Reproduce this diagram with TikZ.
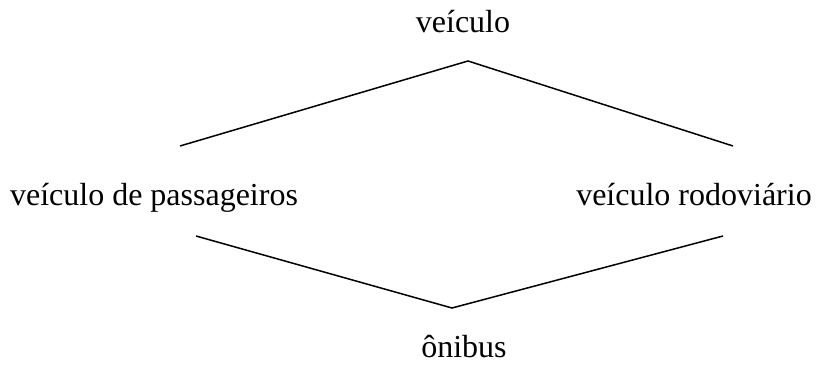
\documentclass[tikz,border=0pt]{standalone}
\usepackage{fontspec}
\setmainfont{Liberation Serif}
\usetikzlibrary{positioning}

\begin{document}
\begin{tikzpicture}[x=0.5pt, y=-0.5pt,
  label/.style={anchor=base, inner sep=0pt, font=\fontsize{16}{19}\selectfont},
  edge/.style={line width=0.75pt}]
  % Frame of the picture
  \useasboundingbox (0,0) rectangle (816,385);

  % Concepts of the lattice
  \node[label] (veic)  at (463,33)  {veículo};
  \node[label] (pass)  at (154,206) {veículo de passageiros};
  \node[label] (rodo)  at (694,206) {veículo rodoviário};
  \node[label] (onib)  at (464,358) {ônibus};

  % Ends of the lines
  \coordinate (top)   at (468,61);
  \coordinate (topL)  at (180,146);
  \coordinate (topR)  at (733,146);
  \coordinate (botL)  at (196,236);
  \coordinate (botR)  at (723,236);
  \coordinate (bot)   at (452,308);

  % Lines between the levels
  \draw[edge] (topL) -- (top) -- (topR);
  \draw[edge] (botL) -- (bot) -- (botR);
\end{tikzpicture}
\end{document}
